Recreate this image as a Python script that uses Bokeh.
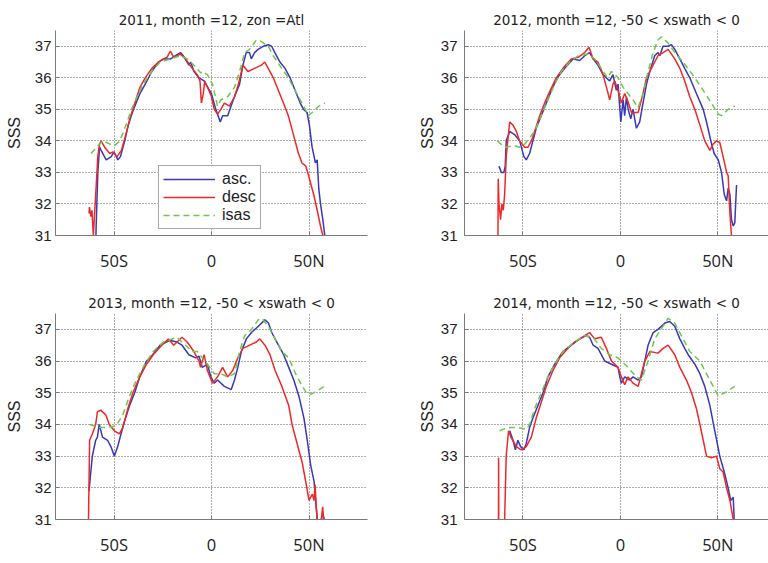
from bokeh.plotting import figure
from bokeh.layouts import column, row
from bokeh.models import FixedTicker, Range1d, Legend, LegendItem
from bokeh.embed import file_html
from bokeh.resources import INLINE

# ---------------- data (latitude in degrees, SSS) ----------------
titles = ["2011, month =12, zon =Atl", "2012, month =12, -50 < xswath < 0",
          "2013, month =12, -50 < xswath < 0", "2014, month =12, -50 < xswath < 0"]
series_names = ["asc.", "desc", "isas"]
x_ticks = [-50, 0, 50]
x_tick_labels = ["50S", "0", "50N"]
y_ticks = [31, 32, 33, 34, 35, 36, 37]

asc_lat_2011 = [-59.6, -59.2, -58.3, -57.4, -56.6, -54.0, -51.4, -50.0, -48.0, -46.7, -44.5, -42.7, -40.0, -36.7, -34.0, -30.6, -27.2, -24.6, -21.0, -18.5, -15.9, -14.5, -11.6, -10.7, -9.0, -6.4, -3.8, -2.0, 0.0, 2.2, 4.5, 5.7, 8.3, 10.0, 11.8, 14.4, 16.1, 17.8, 19.5, 20.4, 22.1, 23.9, 26.5, 29.1, 30.8, 32.5, 35.1, 37.7, 40.3, 42.9, 45.5, 47.2, 49.0, 50.2, 51.6, 53.3, 54.2, 55.0, 55.9, 57.1, 58.1, 58.6]
asc_2011 = [30.0, 31.2, 33.0, 33.8, 33.7, 33.4, 33.5, 33.65, 33.4, 33.5, 34.0, 34.5, 35.0, 35.5, 35.8, 36.2, 36.5, 36.6, 36.6, 36.7, 36.8, 36.7, 36.4, 36.5, 36.2, 36.0, 35.9, 35.7, 35.5, 35.0, 34.6, 34.8, 34.8, 35.1, 35.4, 35.8, 36.4, 36.8, 36.8, 36.6, 36.8, 36.9, 37.0, 37.05, 37.0, 36.8, 36.5, 36.3, 36.0, 35.6, 35.2, 35.0, 34.9, 34.5, 33.8, 33.3, 33.4, 32.5, 32.0, 31.5, 31.0, 30.0]
desc_lat_2011 = [-62.8, -62.6, -61.8, -61.3, -60.6, -59.2, -58.3, -57.4, -56.6, -54.8, -52.2, -50.5, -48.4, -46.2, -43.9, -41.9, -39.3, -36.7, -34.0, -30.6, -27.2, -24.6, -22.8, -21.1, -19.4, -15.9, -13.3, -9.9, -7.3, -5.9, -5.2, -4.2, -3.5, -2.0, 0.0, 1.4, 3.1, 4.8, 6.6, 9.2, 11.8, 13.8, 16.1, 18.7, 22.1, 25.6, 27.3, 29.1, 31.7, 34.3, 36.9, 39.4, 42.0, 44.6, 46.4, 48.4, 50.2, 52.4, 54.2, 55.9, 57.1, 57.6]
desc_2011 = [31.7, 31.9, 31.6, 31.8, 31.0, 32.5, 33.5, 33.9, 34.0, 33.8, 33.6, 33.65, 33.5, 33.7, 34.2, 34.7, 35.2, 35.7, 36.0, 36.3, 36.5, 36.6, 36.65, 36.85, 36.65, 36.75, 36.6, 36.3, 36.1, 35.9, 35.2, 35.5, 35.9, 35.7, 35.4, 35.0, 34.85, 35.0, 35.2, 35.1, 35.4, 35.8, 36.4, 36.2, 36.3, 36.4, 36.5, 36.3, 36.0, 35.6, 35.2, 34.8, 34.2, 33.6, 33.3, 33.2, 32.8, 32.3, 31.8, 31.3, 31.0, 30.0]
isas_lat_2011 = [-61.8, -57.4, -55.6, -52.2, -49.7, -47.0, -43.9, -41.0, -37.5, -34.0, -30.6, -26.3, -21.1, -15.9, -12.5, -9.0, -5.5, -4.7, -2.1, 0.5, 3.1, 4.8, 8.3, 11.8, 14.4, 17.0, 19.5, 23.0, 25.6, 29.1, 31.7, 36.0, 39.4, 42.9, 45.5, 48.1, 49.5, 51.6, 55.0, 58.1]
isas_2011 = [33.6, 33.9, 34.0, 33.9, 33.85, 34.0, 34.5, 35.0, 35.5, 35.9, 36.2, 36.5, 36.6, 36.7, 36.6, 36.4, 36.15, 36.2, 36.1, 35.8, 35.1, 35.3, 35.4, 35.7, 36.2, 36.8, 36.9, 37.2, 37.15, 37.0, 36.7, 36.3, 36.0, 35.6, 35.3, 35.0, 34.8, 34.9, 35.1, 35.2]

asc_lat_2012 = [-62.3, -61.1, -59.8, -59.1, -58.6, -56.8, -54.3, -51.7, -49.5, -48.3, -46.6, -44.9, -43.2, -40.6, -38.0, -35.4, -32.4, -28.6, -24.3, -20.9, -18.3, -15.8, -14.0, -11.5, -8.9, -5.5, -3.8, -2.1, -1.2, 0.2, 1.4, 2.2, 3.1, 4.0, 5.3, 6.5, 8.2, 9.9, 11.6, 13.4, 15.1, 17.6, 19.3, 20.2, 21.9, 24.5, 26.2, 27.9, 30.5, 33.0, 35.6, 39.0, 42.5, 44.2, 46.4, 48.1, 50.2, 51.9, 53.3, 54.5, 55.3, 56.2, 57.0, 57.9, 58.7, 59.6]
asc_2012 = [33.2, 33.0, 33.0, 33.2, 34.0, 34.3, 34.2, 34.0, 33.5, 33.4, 33.6, 34.0, 34.4, 34.8, 35.2, 35.6, 36.0, 36.3, 36.6, 36.55, 36.7, 36.8, 36.6, 36.4, 36.1, 35.9, 36.1, 35.6, 35.8, 34.6, 35.3, 34.8, 35.4, 35.0, 34.7, 35.0, 34.4, 34.6, 35.2, 35.8, 36.2, 36.7, 36.8, 36.7, 37.0, 37.0, 37.05, 36.9, 36.6, 36.3, 36.0, 35.5, 35.0, 34.6, 34.0, 33.6, 33.4, 33.0, 32.3, 32.1, 32.5, 32.3, 31.5, 31.3, 31.4, 32.6]
desc_lat_2012 = [-62.9, -62.7, -62.3, -61.5, -60.8, -60.1, -59.4, -58.6, -56.8, -55.1, -53.4, -51.7, -49.1, -47.4, -45.7, -44.0, -41.4, -38.9, -36.0, -32.9, -29.5, -25.2, -21.7, -18.3, -16.1, -14.0, -11.5, -8.9, -6.3, -5.5, -3.8, -2.9, -1.2, 0.5, 2.2, 3.6, 5.7, 9.1, 11.6, 13.4, 15.9, 19.3, 21.9, 24.5, 27.9, 30.5, 33.0, 35.6, 38.2, 40.8, 43.3, 45.9, 47.6, 49.3, 51.0, 52.7, 54.5, 55.3, 56.2, 57.0, 57.5]
desc_2012 = [30.0, 32.8, 32.0, 31.5, 32.0, 31.8, 32.3, 33.5, 34.6, 34.5, 34.3, 34.0, 33.8, 33.8, 34.0, 34.3, 34.8, 35.2, 35.6, 36.0, 36.3, 36.6, 36.65, 36.8, 36.97, 36.6, 36.5, 36.1, 35.5, 35.3, 35.8, 35.9, 35.6, 35.2, 35.5, 35.3, 34.9, 34.9, 35.5, 36.0, 36.3, 36.7, 36.8, 36.9, 36.6, 36.3, 35.9, 35.4, 35.0, 34.5, 34.0, 33.7, 33.9, 34.0, 33.95, 33.5, 33.0, 32.9, 31.7, 31.0, 30.0]
isas_lat_2012 = [-63.2, -59.4, -54.3, -51.7, -49.1, -44.0, -40.6, -37.2, -33.7, -30.3, -26.0, -21.7, -16.6, -13.2, -9.8, -6.7, -4.6, -1.2, 1.4, 3.9, 6.5, 9.1, 11.6, 14.2, 16.8, 19.3, 21.1, 24.5, 27.9, 32.2, 38.2, 42.5, 46.7, 50.2, 51.9, 55.3, 58.7]
isas_2012 = [34.0, 33.8, 33.85, 33.8, 33.9, 34.3, 34.8, 35.3, 35.8, 36.2, 36.5, 36.7, 36.75, 36.6, 36.3, 36.0, 36.2, 36.0, 35.7, 35.5, 35.3, 35.05, 35.5, 36.2, 36.8, 37.2, 37.3, 37.1, 36.8, 36.5, 36.0, 35.6, 35.2, 34.85, 34.8, 35.0, 35.1]

asc_lat_2013 = [-62.8, -61.9, -61.1, -59.4, -58.5, -57.6, -55.9, -53.3, -51.6, -49.8, -48.1, -46.4, -44.6, -42.0, -39.4, -36.8, -33.3, -30.2, -26.4, -21.2, -17.7, -15.1, -11.6, -8.2, -6.4, -4.7, -2.1, -0.3, 1.4, 3.1, 6.6, 10.1, 11.8, 13.5, 15.3, 17.9, 20.5, 24.0, 27.4, 29.2, 30.9, 33.5, 37.0, 39.6, 42.2, 44.8, 47.4, 49.1, 50.9, 52.6, 53.5, 54.3, 55.5, 57.0, 57.8]
asc_2013 = [31.9, 32.5, 33.0, 33.5, 33.6, 34.0, 33.6, 33.5, 33.3, 33.0, 33.3, 33.7, 34.1, 34.6, 35.0, 35.5, 36.0, 36.2, 36.5, 36.65, 36.6, 36.5, 36.2, 36.1, 36.15, 35.8, 35.9, 35.5, 35.3, 35.4, 35.2, 35.1, 35.4, 35.8, 36.3, 36.7, 36.9, 37.1, 37.3, 37.2, 36.9, 36.6, 36.2, 35.8, 35.4, 34.9, 34.2, 33.5, 32.7, 32.2, 31.5, 31.0, 30.8, 31.2, 31.0]
desc_lat_2013 = [-63.2, -62.5, -61.1, -59.4, -58.5, -56.8, -54.2, -52.4, -49.8, -47.2, -45.5, -42.9, -40.3, -36.8, -33.3, -29.9, -25.5, -22.0, -19.4, -15.1, -12.5, -9.0, -6.4, -5.6, -3.8, -2.1, 0.5, 3.1, 5.7, 8.3, 10.9, 13.5, 16.1, 19.6, 23.0, 24.8, 27.4, 30.0, 32.6, 36.1, 39.6, 41.3, 43.9, 46.5, 48.3, 50.0, 51.7, 52.6, 53.1, 54.3, 56.0, 57.0, 57.5]
desc_2013 = [30.5, 33.5, 33.7, 34.0, 34.4, 34.45, 34.3, 34.0, 33.8, 33.7, 33.9, 34.5, 35.0, 35.5, 35.9, 36.2, 36.5, 36.7, 36.5, 36.75, 36.6, 36.3, 36.0, 35.8, 36.2, 35.7, 35.3, 35.5, 35.8, 35.5, 35.7, 36.1, 36.4, 36.5, 36.6, 36.7, 36.5, 36.2, 35.7, 35.2, 34.6, 34.0, 33.4, 32.8, 32.2, 31.6, 31.8, 31.6, 32.1, 30.8, 30.8, 31.4, 31.0]
isas_lat_2013 = [-62.5, -57.6, -54.2, -49.0, -45.5, -42.0, -38.5, -34.2, -29.9, -24.7, -17.7, -14.2, -9.9, -7.3, -4.7, -2.1, 1.4, 4.9, 8.3, 11.8, 14.4, 17.0, 20.5, 24.0, 25.7, 29.2, 32.6, 36.1, 39.6, 43.1, 45.7, 48.6, 50.9, 55.2, 57.8]
isas_2013 = [34.0, 33.9, 33.9, 33.95, 34.3, 34.9, 35.4, 35.9, 36.3, 36.6, 36.75, 36.55, 36.3, 36.3, 36.1, 35.9, 35.6, 35.6, 35.5, 35.6, 36.3, 36.8, 37.0, 37.3, 37.35, 37.1, 36.7, 36.3, 36.1, 35.6, 35.3, 35.0, 34.95, 35.1, 35.2]

asc_lat_2014 = [-56.8, -55.1, -53.9, -52.6, -51.2, -49.5, -48.3, -46.6, -44.9, -42.3, -39.7, -37.2, -33.7, -29.5, -25.2, -20.9, -17.5, -15.8, -14.0, -11.5, -8.0, -4.6, -1.2, -0.3, 0.5, 2.2, 4.8, 6.5, 9.1, 10.8, 12.5, 14.2, 16.8, 19.3, 22.8, 25.3, 27.9, 30.5, 33.0, 34.8, 38.2, 40.8, 43.3, 45.9, 48.1, 51.0, 53.3, 55.3, 56.6, 57.9, 58.4]
asc_2014 = [33.8, 33.5, 33.2, 33.5, 33.3, 33.2, 33.4, 33.9, 34.2, 34.6, 35.0, 35.5, 35.9, 36.3, 36.5, 36.7, 36.8, 36.75, 36.5, 36.4, 36.0, 35.9, 35.8, 35.5, 35.3, 35.5, 35.4, 35.5, 35.4, 35.5, 36.0, 36.5, 36.9, 37.0, 37.2, 37.25, 37.1, 36.7, 36.4, 36.2, 35.9, 35.6, 35.2, 34.6, 33.9, 33.0, 32.5, 32.0, 31.6, 31.7, 31.0]
desc_lat_2014 = [-62.6, -62.5, -62.4, -59.6, -59.4, -58.6, -57.4, -56.2, -53.4, -50.9, -48.3, -45.7, -43.2, -40.6, -38.0, -34.6, -31.2, -26.9, -23.5, -18.3, -15.8, -13.2, -9.8, -7.2, -4.6, -1.2, 0.5, 2.2, 3.9, 6.5, 9.1, 10.8, 12.5, 15.1, 19.3, 21.9, 24.5, 27.9, 30.5, 33.9, 36.5, 39.0, 40.8, 42.5, 44.2, 46.7, 49.3, 51.0, 52.7, 54.5, 56.2, 57.9, 58.4]
desc_2014 = [30.0, 32.95, 30.0, 30.0, 31.0, 33.0, 33.8, 33.6, 33.3, 33.2, 33.3, 33.6, 34.2, 34.7, 35.2, 35.7, 36.1, 36.4, 36.6, 36.8, 36.9, 36.7, 36.75, 36.4, 36.0, 35.8, 35.5, 35.25, 35.5, 35.3, 35.2, 35.6, 36.0, 36.3, 36.25, 36.4, 36.5, 36.2, 35.8, 35.4, 35.0, 34.5, 34.0, 33.5, 33.0, 32.95, 33.0, 32.6, 32.5, 32.0, 31.6, 31.0, 30.0]
isas_lat_2014 = [-62.0, -57.7, -52.6, -48.3, -46.6, -44.0, -40.6, -37.2, -33.7, -29.5, -23.5, -18.3, -14.0, -9.8, -5.5, -1.2, 3.9, 8.2, 10.8, 14.2, 17.6, 21.9, 24.5, 27.9, 31.3, 35.6, 40.8, 45.0, 48.5, 50.2, 53.6, 58.7]
isas_2014 = [33.8, 33.9, 33.9, 33.85, 34.0, 34.5, 35.0, 35.5, 35.9, 36.3, 36.6, 36.8, 36.75, 36.4, 36.2, 36.1, 35.8, 35.5, 35.4, 36.0, 36.7, 37.1, 37.35, 37.2, 36.8, 36.3, 36.0, 35.5, 35.1, 34.9, 35.0, 35.2]

panels = [
    (asc_lat_2011, asc_2011, desc_lat_2011, desc_2011, isas_lat_2011, isas_2011),
    (asc_lat_2012, asc_2012, desc_lat_2012, desc_2012, isas_lat_2012, isas_2012),
    (asc_lat_2013, asc_2013, desc_lat_2013, desc_2013, isas_lat_2013, isas_2013),
    (asc_lat_2014, asc_2014, desc_lat_2014, desc_2014, isas_lat_2014, isas_2014),
]

# ---------------- styling ----------------
FONT = "Liberation Sans"
TITLE_FONT = "DejaVu Sans"
XTICK_FONT = "Open Sans"
TXT = "#222222"
AX = "#7a7a7a"
C_ASC = "#3838b8"
C_DESC = "#ee2828"
C_ISAS = "#6cc84c"
LW = 1.5

# (width, height, left, right, top, bottom, x_end, title_standoff, xlabel_standoff, ylab_standoff, ytick_standoff)
layout_cfg = [
    (384, 280, 55, 17, 30, 45, 80.0, 6, 13, 9, 4),
    (384, 280, 80, 0, 30, 45, 76.0, 6, 13, 2, 7),
    (384, 283, 55, 17, 33, 44, 80.0, 5, 13, 9, 4),
    (384, 283, 80, 0, 33, 44, 76.0, 5, 13, 2, 7),
]

figs = []
for i, (data, cfg) in enumerate(zip(panels, layout_cfg)):
    w, h, bl, br, bt, bb, xend, tst, xst, ylst, ytst = cfg
    p = figure(width=w, height=h, output_backend="svg", toolbar_location=None,
               x_range=Range1d(-80, xend), y_range=Range1d(31, 37.5),
               min_border_left=bl, min_border_right=br,
               min_border_top=bt, min_border_bottom=bb,
               title=titles[i])
    p.outline_line_color = None
    p.background_fill_color = "white"
    p.border_fill_color = "white"
    p.title.align = "center"
    p.title.text_font = TITLE_FONT
    p.title.text_font_size = "13.5px"
    p.title.text_font_style = "normal"
    p.title.text_color = TXT
    p.title.standoff = tst

    xt = FixedTicker(ticks=x_ticks)
    yt = FixedTicker(ticks=y_ticks)
    p.xaxis.ticker = xt
    p.yaxis.ticker = yt
    p.xaxis.major_label_overrides = {t: l for t, l in zip(x_ticks, x_tick_labels)}
    p.yaxis.axis_label = "SSS"
    for ax in (p.xaxis[0], p.yaxis[0]):
        ax.axis_line_color = AX
        ax.major_tick_line_color = AX
        ax.major_tick_in = 4
        ax.major_tick_out = 0
        ax.minor_tick_line_color = None
        ax.major_label_text_color = TXT
    p.xaxis.major_label_text_font = XTICK_FONT
    p.xaxis.major_label_text_font_size = "16.5px"
    p.yaxis.major_label_text_font = FONT
    p.yaxis.major_label_text_font_size = "15px"
    p.xaxis.major_label_standoff = xst
    p.yaxis.major_label_standoff = ytst
    p.yaxis.axis_label_text_font = FONT
    p.yaxis.axis_label_text_font_size = "16px"
    p.yaxis.axis_label_text_font_style = "normal"
    p.yaxis.axis_label_text_color = TXT
    p.yaxis.axis_label_standoff = ylst

    p.xgrid.ticker = xt
    p.ygrid.ticker = yt
    for g in (p.xgrid[0], p.ygrid[0]):
        g.grid_line_color = "#5a5a5a"
        g.grid_line_dash = "1 2"
        g.grid_line_width = 1

    alat, aval, dlat, dval, ilat, ival = data
    ra = p.line(alat, aval, line_color=C_ASC, line_width=LW)
    rd = p.line(dlat, dval, line_color=C_DESC, line_width=LW)
    ri = p.line(ilat, ival, line_color=C_ISAS, line_width=LW, line_dash="6 4")
    if i == 0:
        lg = Legend(items=[LegendItem(label=series_names[0], renderers=[ra]),
                           LegendItem(label=series_names[1], renderers=[rd]),
                           LegendItem(label=series_names[2], renderers=[ri])],
                    location=(103, 6), margin=0, padding=4, spacing=0,
                    glyph_width=52, glyph_height=18, label_height=18,
                    label_standoff=7, label_text_font=FONT,
                    label_text_font_size="16px", label_text_color=TXT,
                    border_line_color="#555555", border_line_width=1,
                    background_fill_color="white", background_fill_alpha=1)
        p.add_layout(lg, "center")
    figs.append(p)

layout = column(row(figs[0], figs[1]), row(figs[2], figs[3]))
open("out.html", "w").write(file_html(layout, INLINE))
